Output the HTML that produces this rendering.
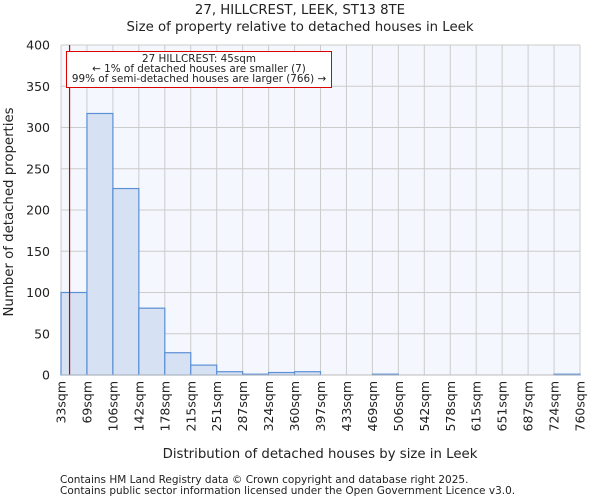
<!DOCTYPE html>
<html><head><meta charset="utf-8"><style>
body{margin:0;background:#fff;font-family:"DejaVu Sans","Liberation Sans",sans-serif}
svg text{font-family:"DejaVu Sans","Liberation Sans",sans-serif;fill:#222}
</style></head><body>
<svg id="c" width="600" height="500">
<text x="300" y="14" text-anchor="middle" font-size="13.3">27, HILLCREST, LEEK, ST13 8TE</text>
<text x="300" y="31" text-anchor="middle" font-size="13.3">Size of property relative to detached houses in Leek</text>
<rect x="61" y="45" width="519" height="330" fill="#f4f7fd"/>
<g id="grid"></g><g id="bars"></g><g id="axes"></g>
<text transform="translate(13,212) rotate(-90)" text-anchor="middle" font-size="13.3">Number of detached properties</text>
<text x="320" y="458" text-anchor="middle" font-size="13.3">Distribution of detached houses by size in Leek</text>
<text x="60" y="483" font-size="10.5">Contains HM Land Registry data © Crown copyright and database right 2025.</text>
<text x="60" y="494" font-size="10.5">Contains public sector information licensed under the Open Government Licence v3.0.</text>
</svg>
<script>
const categories=["33sqm","69sqm","106sqm","142sqm","178sqm","215sqm","251sqm","287sqm","324sqm","360sqm","397sqm","433sqm","469sqm","506sqm","542sqm","578sqm","615sqm","651sqm","687sqm","724sqm","760sqm"];
const counts=[100,317,226,81,27,12,4,1,3,4,0,0,1,0,0,0,0,0,0,1];
const yTicks=[0,50,100,150,200,250,300,350,400];
const propertySize=45;
const binStart=33, binWidth=36.35;
const X0=61,X1=580,Y0=375,Y1=45,NS="http://www.w3.org/2000/svg";
const nb=categories.length-1;
const x=i=>X0+(X1-X0)*i/nb;
const y=v=>Y0-(Y0-Y1)*v/400;
function mk(t,a,p){const e=document.createElementNS(NS,t);for(const k in a)e.setAttribute(k,a[k]);p.appendChild(e);return e;}
const g=document.getElementById('grid'),b=document.getElementById('bars'),ax=document.getElementById('axes');
yTicks.forEach(v=>{
 const l=mk('line',{x1:X0,x2:X1,y1:y(v),y2:y(v),stroke:'#cccccc'},g);
 
 
 const t=mk('text',{x:50,y:y(v)+4.5,'text-anchor':'end','font-size':'12.5'},ax);t.textContent=v;
 
 
});
categories.forEach((c,i)=>{
 const l=mk('line',{x1:x(i),x2:x(i),y1:Y1,y2:Y0,stroke:'#cccccc'},g);
 
 
 const t=mk('text',{transform:`translate(${x(i)+4.5},381) rotate(-90)`,'text-anchor':'end','font-size':'12.5'},ax);t.textContent=c;
 
 
});
counts.forEach((v,i)=>{
 if(v<=0)return;
 const r=mk('rect',{x:x(i),y:y(v),width:x(i+1)-x(i),height:Y0-y(v),fill:'#d6e1f3',stroke:'#5b8fd6','stroke-width':1.2},b);
 
 
});
const mx=X0+(propertySize-binStart)/binWidth*(X1-X0)/nb;
const ml=mk('line',{x1:mx,x2:mx,y1:Y1,y2:Y0,stroke:'#cc0000','stroke-width':1.2},ax);


mk('line',{x1:X0,x2:X1,y1:Y0,y2:Y0,stroke:'#bbbbbb'},ax);
const box=mk('rect',{x:66.5,y:51.5,width:265,height:36,fill:'#fff',stroke:'#dd0000','stroke-width':1},ax);


["27 HILLCREST: 45sqm","← 1% of detached houses are smaller (7)","99% of semi-detached houses are larger (766) →"].forEach((s,i)=>{
 const t=mk('text',{x:199,y:62+i*10,'text-anchor':'middle','font-size':'10.4'},ax);t.textContent=s;
 
 
});
</script>
</body></html>
